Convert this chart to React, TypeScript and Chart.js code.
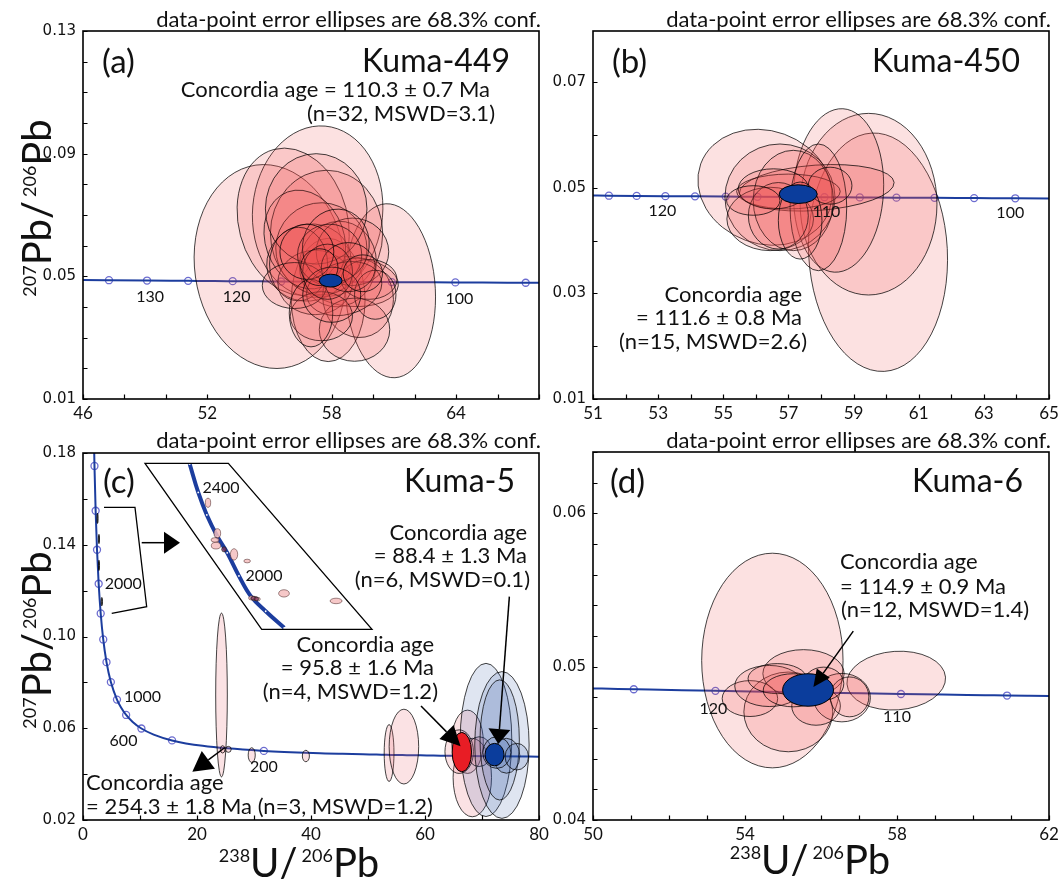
import React, { useEffect, useRef } from "react";
import { Chart, registerables } from "chart.js";

Chart.register(...registerables);

const SANS = "Lato, 'Open Sans', sans-serif";
const TICK_SANS = "'DejaVu Sans', sans-serif";

// ---------------- Concordia nodes (age Ma, 238U/206Pb, 207Pb/206Pb) ----------------
const CONC_AGE = [80, 90, 95, 98, 100, 102, 104, 105, 106, 108, 110, 112, 114, 115, 116, 118, 120, 122, 124, 125, 126, 130, 135, 140, 150, 200, 300, 400, 500, 600, 700, 800, 900, 1000, 1200, 1400, 1600, 1800, 2000, 2200, 2400, 2600, 2800];
const CONC_X = [80.08, 71.128, 67.358, 65.281, 63.965, 62.701, 61.486, 60.896, 60.317, 59.191, 58.105, 57.059, 56.049, 55.557, 55.074, 54.132, 53.222, 52.341, 51.489, 51.073, 50.664, 49.09, 47.253, 45.548, 42.478, 31.73, 20.992, 15.62, 12.399, 10.25, 8.718, 7.568, 6.674, 5.959, 4.888, 4.123, 3.55, 3.105, 2.749, 2.459, 2.217, 2.013, 1.838];
const CONC_Y = [0.047611, 0.047813, 0.047914, 0.047974, 0.048015, 0.048056, 0.048096, 0.048116, 0.048137, 0.048177, 0.048218, 0.048259, 0.0483, 0.048321, 0.048341, 0.048382, 0.048423, 0.048464, 0.048505, 0.048526, 0.048547, 0.048629, 0.048733, 0.048836, 0.049045, 0.050108, 0.052333, 0.054701, 0.057219, 0.059901, 0.062757, 0.065797, 0.069043, 0.072497, 0.080121, 0.088807, 0.098717, 0.110039, 0.122987, 0.137815, 0.154817, 0.174354, 0.196818];

const A_MARKS = [95, 100, 105, 110, 115, 120, 125, 130, 135];
const B_MARKS = [100, 102, 104, 106, 108, 110, 112, 114, 116, 118, 120, 122, 124];
const C_MARKS = [200, 400, 600, 800, 1000, 1200, 1400, 1600, 1800, 2000, 2200, 2400, 2600];
const D_MARKS = [105, 110, 115, 120, 125];

// ---------------- Tick labels ----------------
const A_X_LABELS = [46, 52, 58, 64];
const A_Y_LABELS = [0.01, 0.05, 0.09, 0.13];
const B_X_LABELS = [51, 53, 55, 57, 59, 61, 63, 65];
const B_Y_LABELS = [0.01, 0.03, 0.05, 0.07];
const C_X_LABELS = [0, 20, 40, 60, 80];
const C_Y_LABELS = [0.02, 0.06, 0.1, 0.14, 0.18];
const D_X_LABELS = [50, 54, 58, 62];
const D_Y_LABELS = [0.04, 0.05, 0.06];

// ---------------- (a) Kuma-449 error ellipses ----------------
const A_ELL_X = [55.03, 57.32, 56.14, 60.83, 57.83, 57.75, 58.93, 57.5, 56.9, 58.3, 57.2, 59.27, 59.1, 56.7, 59.0, 57.25, 56.4, 59.8, 57.9, 58.6, 57.5, 56.2, 60.1, 57.0, 58.2, 57.8, 58.8, 56.8, 58.0, 59.5, 57.4];
const A_ELL_Y = [0.0532, 0.0711, 0.0678, 0.0453, 0.0423, 0.064, 0.0483, 0.059, 0.0545, 0.054, 0.048, 0.043, 0.0326, 0.062, 0.058, 0.072, 0.054, 0.049, 0.057, 0.046, 0.037, 0.047, 0.044, 0.038, 0.06, 0.0515, 0.053, 0.058, 0.044, 0.051, 0.053];
const A_ELL_RX = [3.64, 3.14, 2.63, 2.17, 1.78, 2.71, 2.29, 2.2, 2.05, 1.85, 1.8, 1.7, 1.7, 1.9, 1.75, 2.45, 1.4, 1.35, 1.55, 1.85, 1.5, 1.55, 1.0, 1.05, 1.6, 1.2, 1.3, 1.3, 1.4, 0.95, 0.9];
const A_ELL_RY = [0.0334, 0.028, 0.0244, 0.0284, 0.0201, 0.0206, 0.0081, 0.015, 0.0125, 0.014, 0.0105, 0.013, 0.0103, 0.0165, 0.011, 0.018, 0.012, 0.0065, 0.01, 0.0085, 0.008, 0.0075, 0.008, 0.011, 0.012, 0.009, 0.008, 0.009, 0.009, 0.006, 0.006];
const A_ELL_ROT = [8, -5, 15, 3, 0, 0, -5, 10, 15, -10, 0, 10, 0, 20, 0, 0, 0, 0, 0, 15, 0, 0, 0, 0, -15, 0, 0, 0, 0, 0, 0];
const A_AGE_X = [57.95];
const A_AGE_Y = [0.0486];
const A_AGE_RX = [0.55];
const A_AGE_RY = [0.0021];

// ---------------- (b) Kuma-450 ----------------
const B_ELL_X = [59.75, 59.46, 58.54, 56.28, 56.74, 57.87, 57.0, 56.44, 57.15, 57.92, 56.69, 58.28, 56.54, 57.36, 55.92];
const B_ELL_Y = [0.0378, 0.0469, 0.0495, 0.0501, 0.0482, 0.05, 0.0493, 0.0441, 0.0476, 0.0463, 0.0447, 0.0504, 0.0498, 0.0438, 0.0476];
const B_ELL_RX = [2.13, 2.1, 1.38, 2.1, 1.69, 2.38, 1.59, 1.33, 1.23, 0.87, 0.92, 0.67, 1.08, 0.67, 0.82];
const B_ELL_RY = [0.0226, 0.0172, 0.0155, 0.0107, 0.0101, 0.0043, 0.0033, 0.006, 0.0095, 0.012, 0.0063, 0.0035, 0.0038, 0.0073, 0.0028];
const B_ELL_ROT = [3, 0, -3, -20, 0, 4, 0, 0, 0, 0, 0, 0, 0, 0, 0];
const B_AGE_X = [57.3];
const B_AGE_Y = [0.0488];
const B_AGE_RX = [0.585];
const B_AGE_RY = [0.00177];

// ---------------- (c) Kuma-5 ----------------
const C_PINK_X = [24.3, 24.5, 25.5, 29.6, 39.1, 53.7, 56.3, 67.46, 68.3, 66.0, 69.5];
const C_PINK_Y = [0.0745, 0.0508, 0.0508, 0.0483, 0.0479, 0.0492, 0.052, 0.0541, 0.0385, 0.0498, 0.0498];
const C_PINK_RX = [1.02, 0.4, 0.5, 0.62, 0.62, 0.86, 2.59, 2.77, 3.37, 2.5, 2.2];
const C_PINK_RY = [0.0357, 0.0016, 0.0013, 0.0032, 0.0025, 0.0124, 0.0163, 0.0138, 0.0171, 0.0095, 0.0065];
const C_BLUE_X = [70.7, 73.5, 73.1, 74.3, 72.6, 76.1];
const C_BLUE_Y = [0.0549, 0.0527, 0.0549, 0.048, 0.0494, 0.0476];
const C_BLUE_RX = [4.53, 4.77, 3.45, 2.34, 2.46, 2.05];
const C_BLUE_RY = [0.0334, 0.032, 0.0262, 0.0076, 0.0069, 0.0058];
const C_RED_AGE_X = [66.46];
const C_RED_AGE_Y = [0.0496];
const C_RED_AGE_RX = [1.7];
const C_RED_AGE_RY = [0.0086];
const C_BLUE_AGE_X = [72.2];
const C_BLUE_AGE_Y = [0.0485];
const C_BLUE_AGE_RX = [1.67];
const C_BLUE_AGE_RY = [0.0049];
const C_TINY_X = [2.55, 2.8, 2.8, 3.3];
const C_TINY_Y = [0.1515, 0.1425, 0.131, 0.1152];
const C_TINY_RX = [0.1, 0.1, 0.1, 0.12];
const C_TINY_RY = [0.0022, 0.002, 0.0022, 0.0018];
// inset (magnified old grains)
const INSET_CURVE_X = [18.72, 20.22, 21.72, 23.6, 25.3, 27.36, 29.5, 32.05, 35.3];
const INSET_CURVE_Y = [0.1752, 0.1628, 0.153, 0.1435, 0.1365, 0.1264, 0.1174, 0.111, 0.1038];
const INSET_ELL_X = [21.93, 23.57, 23.16, 23.33, 26.5, 28.8, 35.26, 44.4, 29.6, 30.1, 30.6];
const INSET_ELL_Y = [0.1583, 0.145, 0.1421, 0.1396, 0.1358, 0.1329, 0.1188, 0.1155, 0.1168, 0.1166, 0.1163];
const INSET_ELL_RX = [0.47, 0.58, 0.7, 0.82, 0.64, 0.58, 0.94, 1.05, 0.55, 0.55, 0.5];
const INSET_ELL_RY = [0.002, 0.002, 0.001, 0.00145, 0.0025, 0.0008, 0.0016, 0.0012, 0.0009, 0.0009, 0.0008];
const INSET_DARK_X = [24.74, 29.9, 30.4];
const INSET_DARK_Y = [0.138, 0.1167, 0.1164];
const INSET_DARK_RX = [0.4, 0.45, 0.4];
const INSET_DARK_RY = [0.0011, 0.0008, 0.0008];
const INSET_BOX_X = [10.88, 25.5, 50.7, 31.35];
const INSET_BOX_Y = [0.1755, 0.1755, 0.1031, 0.1031];
const BRACKET_X = [3.68, 9.12, 11.17, 5.04];
const BRACKET_Y = [0.1563, 0.1563, 0.113, 0.1101];
const C_ARROW_X1 = [10.3, 59.3, 74.8, 24.84];
const C_ARROW_Y1 = [0.1409, 0.0697, 0.1174, 0.0515];
const C_ARROW_X2 = [17.02, 66.24, 72.86, 19.18];
const C_ARROW_Y2 = [0.1409, 0.0522, 0.0531, 0.041];

// ---------------- (d) Kuma-6 ----------------
const D_ELL_X = [54.72, 57.98, 55.14, 55.54, 54.13, 54.64, 54.85, 56.55, 55.87, 56.75, 56.07, 55.27];
const D_ELL_Y = [0.0504, 0.04909, 0.04705, 0.04955, 0.04792, 0.04874, 0.04922, 0.04798, 0.04744, 0.04803, 0.04889, 0.04846];
const D_ELL_RX = [1.86, 1.3, 1.17, 1.07, 0.73, 0.91, 0.77, 0.75, 0.64, 0.51, 0.53, 0.79];
const D_ELL_RY = [0.007, 0.00191, 0.0026, 0.00156, 0.00117, 0.00134, 0.00098, 0.00158, 0.00126, 0.0013, 0.00108, 0.00108];
const D_ELL_ROT = [0, 4, 0, 0, 0, 0, 0, 0, 0, 0, 0, 0];
const D_AGE_X = [55.66];
const D_AGE_Y = [0.04848];
const D_AGE_RX = [0.67];
const D_AGE_RY = [0.00106];
const D_ARROW_X1 = [56.85];
const D_ARROW_Y1 = [0.05232];
const D_ARROW_X2 = [55.8];
const D_ARROW_Y2 = [0.04868];

// ---------------- styles ----------------
const LINE_BLUE = "#1c3d9e";
const MARK_EDGE = "#6c6cd0";
const PINK = "rgba(238, 80, 80, 0.17)";
const PINK_C = "rgba(235, 110, 120, 0.2)";
const BLUE_T = "rgba(40, 80, 160, 0.15)";
const EDGE = "rgba(0,0,0,0.82)";
const SOLID_BLUE = "#0b3d9c";
const SOLID_RED = "#e81d25";

const YW = 60;
const XH = 30;
const NOTE_SIZE = 22;
const LETTER_SIZE = 33;
const NAME_SIZE = 32;
const AGE_SIZE = 22;

type Layer = { x: number[]; y: number[]; rx: number[]; ry: number[]; rot?: number[]; fill: string; stroke: string; lw: number };

function drawLayer(chart: any, L: Layer) {
  const { ctx, scales } = chart;
  const xs = scales.x, ys = scales.y;
  const kx = Math.abs(xs.getPixelForValue(xs.max) - xs.getPixelForValue(xs.min)) / (xs.max - xs.min);
  const ky = Math.abs(ys.getPixelForValue(ys.max) - ys.getPixelForValue(ys.min)) / (ys.max - ys.min);
  for (let i = 0; i < L.x.length; i++) {
    const cx = xs.getPixelForValue(L.x[i]);
    const cy = ys.getPixelForValue(L.y[i]);
    const rot = L.rot ? L.rot[i] : 0;
    ctx.beginPath();
    ctx.ellipse(cx, cy, L.rx[i] * kx, L.ry[i] * ky, (-rot * Math.PI) / 180, 0, Math.PI * 2);
    ctx.fillStyle = L.fill;
    ctx.fill();
    ctx.strokeStyle = L.stroke;
    ctx.lineWidth = L.lw;
    ctx.stroke();
  }
}

function txt(ctx: any, t: string, x: number, y: number, size: number, align: CanvasTextAlign = "left", family = SANS) {
  ctx.font = `${size}px ${family}`;
  ctx.textAlign = align;
  ctx.textBaseline = "middle";
  ctx.fillStyle = "#111";
  ctx.fillText(t, x, y);
}

function isoLabel(ctx: any, parts: [string, boolean][], cx: number, cy: number, rotate: boolean, big: number, small: number) {
  ctx.save();
  ctx.translate(cx, cy);
  if (rotate) ctx.rotate(-Math.PI / 2);
  const fb = `${big}px ${SANS}`;
  const fs = `${small}px ${SANS}`;
  const widths = parts.map(([t, sup]) => {
    ctx.font = sup ? fs : fb;
    return ctx.measureText(t).width + (t === "/" ? 4 : 0);
  });
  const total = widths.reduce((a, b) => a + b, 0);
  let x = -total / 2;
  const base = big * 0.36;
  ctx.fillStyle = "#111";
  ctx.textAlign = "left";
  ctx.textBaseline = "alphabetic";
  parts.forEach(([t, sup], i) => {
    ctx.font = sup ? fs : fb;
    ctx.fillText(t, x, sup ? base - (big - small) * 0.72 : base);
    x += widths[i];
  });
  ctx.restore();
}

function arrow(ctx: any, x1: number, y1: number, x2: number, y2: number, len: number, half: number) {
  const a = Math.atan2(y2 - y1, x2 - x1);
  const bx = x2 - len * Math.cos(a);
  const by = y2 - len * Math.sin(a);
  ctx.strokeStyle = "#000";
  ctx.fillStyle = "#000";
  ctx.lineWidth = 1.5;
  ctx.beginPath();
  ctx.moveTo(x1, y1);
  ctx.lineTo(bx, by);
  ctx.stroke();
  ctx.beginPath();
  ctx.moveTo(x2, y2);
  ctx.lineTo(bx + half * Math.sin(a), by - half * Math.cos(a));
  ctx.lineTo(bx - half * Math.sin(a), by + half * Math.cos(a));
  ctx.closePath();
  ctx.fill();
}

type TextItem = { t: string; x: number; y: number; size: number; align: CanvasTextAlign };
type ConcLabel = { age: number; dx: number; dy: number; align: CanvasTextAlign };
type ArrowSet = { x1: number[]; y1: number[]; x2: number[]; y2: number[]; len: number[]; half: number[] };
type Poly = { x: number[]; y: number[]; close: boolean };

type Spec = {
  key: string;
  left: number; top: number; width: number; height: number;
  area: { l: number; t: number; r: number; b: number };
  x: { min: number; max: number; step: number; labels: number[]; dec: number };
  y: { min: number; max: number; step: number; labels: number[]; dec: number };
  marks: number[];
  layers: Layer[];
  texts: TextItem[];
  concLabels: ConcLabel[];
  arrows?: ArrowSet;
  polys?: Poly[];
  yTitle?: [number, number];
  xTitle?: [number, number];
  extraDatasets?: any[];
};

const NOTE = "data-point error ellipses are 68.3% conf.";

function axisOpts(a: Spec["x"], which: "x" | "y") {
  return {
    type: "linear",
    min: a.min,
    max: a.max,
    grid: { display: false, drawTicks: false },
    border: { display: false },
    ticks: {
      stepSize: a.step,
      autoSkip: false,
      includeBounds: false,
      maxRotation: 0,
      minRotation: 0,
      padding: which === "x" ? 4 : 7,
      color: "#111",
      font: which === "x" ? { family: SANS, size: 17 } : { family: TICK_SANS, size: 15 },
      callback: (v: any) => {
        const n = Number(v);
        return a.labels.some((l) => Math.abs(l - n) < a.step * 1e-3) ? n.toFixed(a.dec) : "";
      },
    },
    afterFit: (sc: any) => {
      if (which === "x") sc.height = XH;
      else sc.width = YW;
      sc.paddingLeft = 0;
      sc.paddingRight = 0;
      sc.paddingTop = 0;
      sc.paddingBottom = 0;
    },
  };
}

function panelPlugin(s: Spec) {
  return {
    id: "panel_" + s.key,
    afterDatasetsDraw(chart: any) {
      const { ctx, chartArea: ca } = chart;
      ctx.save();
      ctx.beginPath();
      ctx.rect(ca.left, ca.top, ca.right - ca.left, ca.bottom - ca.top);
      ctx.clip();
      s.layers.forEach((L) => drawLayer(chart, L));
      ctx.restore();
    },
    afterDraw(chart: any) {
      const { ctx, chartArea: ca, scales } = chart;
      const xs = scales.x, ys = scales.y;
      const ox = s.left, oy = s.top;
      ctx.save();
      // frame
      ctx.strokeStyle = "#000";
      ctx.lineWidth = 1.6;
      ctx.strokeRect(ca.left, ca.top, ca.right - ca.left, ca.bottom - ca.top);
      // inward ticks
      ctx.lineWidth = 1.2;
      ctx.beginPath();
      xs.ticks.forEach((t: any) => {
        const p = Math.round(xs.getPixelForValue(t.value)) + 0.5;
        ctx.moveTo(p, ca.bottom);
        ctx.lineTo(p, ca.bottom - 4.5);
      });
      ys.ticks.forEach((t: any) => {
        const p = Math.round(ys.getPixelForValue(t.value)) + 0.5;
        ctx.moveTo(ca.left, p);
        ctx.lineTo(ca.left + 4.5, p);
      });
      ctx.stroke();
      // polylines (inset box, bracket)
      (s.polys || []).forEach((P) => {
        ctx.beginPath();
        P.x.forEach((vx, i) => {
          const px = xs.getPixelForValue(vx);
          const py = ys.getPixelForValue(P.y[i]);
          if (i === 0) ctx.moveTo(px, py);
          else ctx.lineTo(px, py);
        });
        if (P.close) ctx.closePath();
        ctx.lineWidth = 1.3;
        ctx.strokeStyle = "#000";
        ctx.stroke();
      });
      // arrows
      if (s.arrows) {
        const A = s.arrows;
        A.x1.forEach((_, i) => {
          arrow(
            ctx,
            xs.getPixelForValue(A.x1[i]), ys.getPixelForValue(A.y1[i]),
            xs.getPixelForValue(A.x2[i]), ys.getPixelForValue(A.y2[i]),
            A.len[i], A.half[i]
          );
        });
      }
      // concordia age labels
      s.concLabels.forEach((c) => {
        const i = CONC_AGE.indexOf(c.age);
        const px = xs.getPixelForValue(CONC_X[i]);
        const py = ys.getPixelForValue(CONC_Y[i]);
        txt(ctx, String(c.age), px + c.dx, py + c.dy, 16, c.align);
      });
      // texts
      s.texts.forEach((t) => txt(ctx, t.t, t.x - ox, t.y - oy, t.size, t.align));
      // axis titles
      if (s.yTitle) isoLabel(ctx, [["207", true], ["Pb", false], ["/", false], ["206", true], ["Pb", false]], s.yTitle[0] - ox, s.yTitle[1] - oy, true, 40, 18);
      if (s.xTitle) isoLabel(ctx, [["238", true], ["U", false], ["/", false], ["206", true], ["Pb", false]], s.xTitle[0] - ox, s.xTitle[1] - oy, false, 40, 18);
      ctx.restore();
    },
  };
}

function buildConfig(s: Spec) {
  const marks = s.marks.map((a) => CONC_AGE.indexOf(a));
  return {
    type: "scatter",
    data: {
      datasets: [
        {
          data: CONC_X.map((x, i) => ({ x, y: CONC_Y[i] })),
          showLine: true,
          borderColor: LINE_BLUE,
          borderWidth: 2,
          pointRadius: 0,
          cubicInterpolationMode: "monotone",
          fill: false,
        },
        {
          data: marks.map((i) => ({ x: CONC_X[i], y: CONC_Y[i] })),
          showLine: false,
          pointRadius: 3.5,
          pointBackgroundColor: "#ffffff",
          pointBorderColor: MARK_EDGE,
          pointBorderWidth: 1.3,
        },
        ...(s.extraDatasets || []),
      ],
    },
    options: {
      responsive: false,
      animation: false,
      devicePixelRatio: 1,
      events: [],
      layout: {
        padding: {
          left: s.area.l - s.left - YW,
          top: s.area.t - s.top,
          right: s.left + s.width - s.area.r,
          bottom: s.top + s.height - s.area.b - XH,
        },
      },
      plugins: { legend: { display: false }, tooltip: { enabled: false } },
      scales: { x: axisOpts(s.x, "x"), y: axisOpts(s.y, "y") },
    },
    plugins: [panelPlugin(s)],
  };
}

const SPECS: Spec[] = [
  {
    key: "a",
    left: 0, top: 0, width: 565, height: 432,
    area: { l: 83, t: 31, r: 539, b: 399 },
    x: { min: 46, max: 68, step: 2, labels: A_X_LABELS, dec: 0 },
    y: { min: 0.01, max: 0.13, step: 0.01, labels: A_Y_LABELS, dec: 2 },
    marks: A_MARKS,
    layers: [
      { x: A_ELL_X, y: A_ELL_Y, rx: A_ELL_RX, ry: A_ELL_RY, rot: A_ELL_ROT, fill: PINK, stroke: EDGE, lw: 0.9 },
      { x: A_AGE_X, y: A_AGE_Y, rx: A_AGE_RX, ry: A_AGE_RY, fill: SOLID_BLUE, stroke: "#000", lw: 1 },
    ],
    texts: [
      { t: NOTE, x: 541, y: 20, size: NOTE_SIZE, align: "right" },
      { t: "(a)", x: 102, y: 62, size: LETTER_SIZE, align: "left" },
      { t: "Kuma-449", x: 510, y: 62, size: NAME_SIZE, align: "right" },
      { t: "Concordia age = 110.3 ± 0.7 Ma", x: 490, y: 90, size: AGE_SIZE, align: "right" },
      { t: "(n=32, MSWD=3.1)", x: 495, y: 114, size: AGE_SIZE, align: "right" },
    ],
    concLabels: [
      { age: 130, dx: 3, dy: 16, align: "center" },
      { age: 120, dx: 4, dy: 16, align: "center" },
      { age: 100, dx: 4, dy: 16, align: "center" },
    ],
    yTitle: [37, 208],
  },
  {
    key: "b",
    left: 540, top: 0, width: 524, height: 432,
    area: { l: 593, t: 31, r: 1049, b: 399 },
    x: { min: 51, max: 65, step: 1, labels: B_X_LABELS, dec: 0 },
    y: { min: 0.01, max: 0.0797, step: 0.01, labels: B_Y_LABELS, dec: 2 },
    marks: B_MARKS,
    layers: [
      { x: B_ELL_X, y: B_ELL_Y, rx: B_ELL_RX, ry: B_ELL_RY, rot: B_ELL_ROT, fill: PINK, stroke: EDGE, lw: 0.9 },
      { x: B_AGE_X, y: B_AGE_Y, rx: B_AGE_RX, ry: B_AGE_RY, fill: SOLID_BLUE, stroke: "#000", lw: 1 },
    ],
    texts: [
      { t: NOTE, x: 1051, y: 20, size: NOTE_SIZE, align: "right" },
      { t: "(b)", x: 612, y: 62, size: LETTER_SIZE, align: "left" },
      { t: "Kuma-450", x: 1020, y: 62, size: NAME_SIZE, align: "right" },
      { t: "Concordia age", x: 802, y: 295, size: AGE_SIZE, align: "right" },
      { t: "= 111.6 ± 0.8 Ma", x: 802, y: 318, size: AGE_SIZE, align: "right" },
      { t: "(n=15, MSWD=2.6)", x: 807, y: 342, size: AGE_SIZE, align: "right" },
    ],
    concLabels: [
      { age: 120, dx: -3, dy: 15, align: "center" },
      { age: 110, dx: 2, dy: 15, align: "center" },
      { age: 100, dx: -5, dy: 15, align: "center" },
    ],
  },
  {
    key: "c",
    left: 0, top: 425, width: 565, height: 454,
    area: { l: 83, t: 453, r: 539, b: 820 },
    x: { min: 0, max: 80, step: 10, labels: C_X_LABELS, dec: 0 },
    y: { min: 0.02, max: 0.18, step: 0.02, labels: C_Y_LABELS, dec: 2 },
    marks: C_MARKS,
    extraDatasets: [
      {
        data: INSET_CURVE_X.map((x, i) => ({ x, y: INSET_CURVE_Y[i] })),
        showLine: true,
        borderColor: LINE_BLUE,
        borderWidth: 4,
        tension: 0.4,
        pointRadius: 0.9,
        pointBackgroundColor: "#ffffff",
        pointBorderWidth: 0,
      },
    ],
    layers: [
      { x: C_PINK_X, y: C_PINK_Y, rx: C_PINK_RX, ry: C_PINK_RY, fill: PINK_C, stroke: EDGE, lw: 0.9 },
      { x: C_BLUE_X, y: C_BLUE_Y, rx: C_BLUE_RX, ry: C_BLUE_RY, fill: BLUE_T, stroke: EDGE, lw: 0.9 },
      { x: INSET_ELL_X, y: INSET_ELL_Y, rx: INSET_ELL_RX, ry: INSET_ELL_RY, fill: "rgba(245,190,190,0.85)", stroke: "rgba(60,20,20,0.7)", lw: 0.7 },
      { x: INSET_DARK_X, y: INSET_DARK_Y, rx: INSET_DARK_RX, ry: INSET_DARK_RY, fill: "rgba(130,50,90,0.75)", stroke: "#222", lw: 0.7 },
      { x: C_TINY_X, y: C_TINY_Y, rx: C_TINY_RX, ry: C_TINY_RY, fill: "rgba(0,0,0,0.6)", stroke: "#000", lw: 0.8 },
      { x: C_RED_AGE_X, y: C_RED_AGE_Y, rx: C_RED_AGE_RX, ry: C_RED_AGE_RY, fill: SOLID_RED, stroke: "#000", lw: 1 },
      { x: C_BLUE_AGE_X, y: C_BLUE_AGE_Y, rx: C_BLUE_AGE_RX, ry: C_BLUE_AGE_RY, fill: SOLID_BLUE, stroke: "#000", lw: 1 },
    ],
    polys: [
      { x: INSET_BOX_X, y: INSET_BOX_Y, close: true },
      { x: BRACKET_X, y: BRACKET_Y, close: false },
    ],
    arrows: { x1: C_ARROW_X1, y1: C_ARROW_Y1, x2: C_ARROW_X2, y2: C_ARROW_Y2, len: [16, 20, 15, 20], half: [11, 10, 11, 11] },
    texts: [
      { t: NOTE, x: 541, y: 441, size: NOTE_SIZE, align: "right" },
      { t: "(c)", x: 103, y: 482, size: LETTER_SIZE, align: "left" },
      { t: "Kuma-5", x: 515, y: 482, size: NAME_SIZE, align: "right" },
      { t: "Concordia age", x: 527, y: 533, size: AGE_SIZE, align: "right" },
      { t: "= 88.4 ± 1.3 Ma", x: 527, y: 556, size: AGE_SIZE, align: "right" },
      { t: "(n=6, MSWD=0.1)", x: 530, y: 580, size: AGE_SIZE, align: "right" },
      { t: "Concordia age", x: 434, y: 645, size: AGE_SIZE, align: "right" },
      { t: "= 95.8 ± 1.6 Ma", x: 434, y: 668, size: AGE_SIZE, align: "right" },
      { t: "(n=4, MSWD=1.2)", x: 438, y: 692, size: AGE_SIZE, align: "right" },
      { t: "Concordia age", x: 86, y: 783, size: AGE_SIZE, align: "left" },
      { t: "= 254.3 ± 1.8 Ma (n=3, MSWD=1.2)", x: 86, y: 807, size: AGE_SIZE, align: "left" },
      { t: "2400", x: 221, y: 488, size: 16, align: "center" },
      { t: "2000", x: 264, y: 576, size: 16, align: "center" },
    ],
    concLabels: [
      { age: 2000, dx: 6, dy: 0, align: "left" },
      { age: 1000, dx: 7, dy: -3, align: "left" },
      { age: 600, dx: -4, dy: 12, align: "right" },
      { age: 200, dx: 0, dy: 16, align: "center" },
    ],
    yTitle: [37, 640],
    xTitle: [299, 863],
  },
  {
    key: "d",
    left: 540, top: 425, width: 524, height: 454,
    area: { l: 593, t: 452, r: 1049, b: 820 },
    x: { min: 50, max: 62, step: 1, labels: D_X_LABELS, dec: 0 },
    y: { min: 0.04, max: 0.064, step: 0.002, labels: D_Y_LABELS, dec: 2 },
    marks: D_MARKS,
    layers: [
      { x: D_ELL_X, y: D_ELL_Y, rx: D_ELL_RX, ry: D_ELL_RY, rot: D_ELL_ROT, fill: PINK, stroke: EDGE, lw: 0.9 },
      { x: D_AGE_X, y: D_AGE_Y, rx: D_AGE_RX, ry: D_AGE_RY, fill: SOLID_BLUE, stroke: "#000", lw: 1 },
    ],
    arrows: { x1: D_ARROW_X1, y1: D_ARROW_Y1, x2: D_ARROW_X2, y2: D_ARROW_Y2, len: [17], half: [8] },
    texts: [
      { t: NOTE, x: 1051, y: 441, size: NOTE_SIZE, align: "right" },
      { t: "(d)", x: 610, y: 482, size: LETTER_SIZE, align: "left" },
      { t: "Kuma-6", x: 1023, y: 482, size: NAME_SIZE, align: "right" },
      { t: "Concordia age", x: 840, y: 562, size: AGE_SIZE, align: "left" },
      { t: "= 114.9 ± 0.9 Ma", x: 840, y: 587, size: AGE_SIZE, align: "left" },
      { t: "(n=12, MSWD=1.4)", x: 841, y: 610, size: AGE_SIZE, align: "left" },
    ],
    concLabels: [
      { age: 120, dx: -2, dy: 18, align: "center" },
      { age: 110, dx: -4, dy: 23, align: "center" },
    ],
    xTitle: [810, 860],
  },
];

function Panel({ spec }: { spec: Spec }) {
  const ref = useRef<HTMLCanvasElement | null>(null);
  useEffect(() => {
    if (!ref.current) return;
    const chart = new Chart(ref.current, buildConfig(spec) as any);
    return () => chart.destroy();
  }, [spec]);
  return (
    <canvas
      ref={ref}
      width={spec.width}
      height={spec.height}
      style={{ position: "absolute", left: spec.left, top: spec.top, width: spec.width, height: spec.height }}
    />
  );
}

export default function App() {
  return (
    <div style={{ position: "absolute", left: 0, top: 0, width: 1064, height: 879, background: "#fff", overflow: "hidden" }}>
      {SPECS.map((s) => (
        <Panel key={s.key} spec={s} />
      ))}
    </div>
  );
}
